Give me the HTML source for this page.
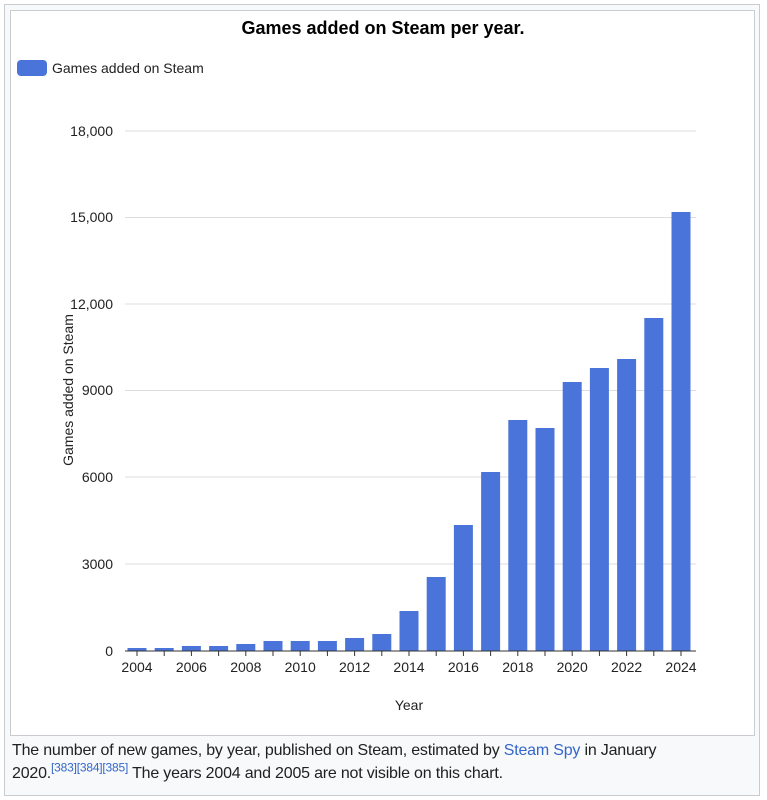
<!DOCTYPE html><html><head><style>
body{margin:0;background:#fff;font-family:"Liberation Sans",sans-serif;}
.outer{position:absolute;left:4px;top:4px;width:754px;height:790px;border:1px solid #c8ccd1;background:#f8f9fa;}
.inner{position:absolute;left:10px;top:10px;width:743px;height:724px;border:1px solid #c8ccd1;background:#fff;}
.cap{position:absolute;left:12px;top:739px;width:745px;font-size:16px;line-height:23px;color:#202122;white-space:nowrap;letter-spacing:-0.2px}
.cap a{color:#3366cc;text-decoration:none}
.cap sup{font-size:12px;line-height:0;color:#3366cc}
</style></head><body>
<div class="outer"></div><div class="inner"></div>
<svg style="position:absolute;left:0;top:0" width="767" height="740">
<text x="383" y="34" text-anchor="middle" font-size="18" font-weight="bold" fill="#000">Games added on Steam per year.</text>
<rect x="17" y="60" width="30" height="16" rx="4" fill="#4a74d9"/>
<text x="52" y="73" font-size="14" fill="#222">Games added on Steam</text>
<g stroke="#ddd" stroke-width="1">
<line x1="125" x2="696" y1="131" y2="131"/><line x1="125" x2="696" y1="217.5" y2="217.5"/>
<line x1="125" x2="696" y1="304" y2="304"/><line x1="125" x2="696" y1="390.5" y2="390.5"/>
<line x1="125" x2="696" y1="477" y2="477"/><line x1="125" x2="696" y1="564" y2="564"/>
</g>
<g font-size="14" fill="#222" text-anchor="end">
<text x="113" y="136">18,000</text><text x="113" y="222">15,000</text><text x="113" y="309">12,000</text>
<text x="113" y="395">9000</text><text x="113" y="482">6000</text><text x="113" y="569">3000</text><text x="113" y="656">0</text>
</g>
<text transform="translate(73,390) rotate(-90)" text-anchor="middle" font-size="14" fill="#222">Games added on Steam</text>
<g fill="#4a74d9" id="bars"></g>
<line x1="125" x2="696" y1="651" y2="651" stroke="#333"/>
<g id="ticks" stroke="#333"></g>
<g font-size="14" fill="#222" text-anchor="middle" id="xl"></g>
<text x="409" y="710" text-anchor="middle" font-size="14" fill="#222">Year</text>
</svg>
<div class="cap">The number of new games, by year, published on Steam, estimated by <a>Steam Spy</a> in January<br>2020.<sup>[383][384][385]</sup> The years 2004 and 2005 are not visible on this chart.</div>
<script>
var tops=[648,648,646,646,644,641,641,641,638,634,611,577,525,472,420,428,382,368,359,318,212];
var b=document.getElementById('bars'),t=document.getElementById('ticks'),x=document.getElementById('xl'),ns="http://www.w3.org/2000/svg";
tops.forEach(function(y,i){var c=137+i*27.2;var r=document.createElementNS(ns,'rect');r.setAttribute('x',c-9.5);r.setAttribute('y',y);r.setAttribute('width',19);r.setAttribute('height',651-y);b.appendChild(r);
var l=document.createElementNS(ns,'line');l.setAttribute('x1',c);l.setAttribute('x2',c);l.setAttribute('y1',651);l.setAttribute('y2',656);t.appendChild(l);
if(i%2==0){var s=document.createElementNS(ns,'text');s.setAttribute('x',c);s.setAttribute('y',672);s.textContent=2004+i;x.appendChild(s);}});
</script>
</body></html>
